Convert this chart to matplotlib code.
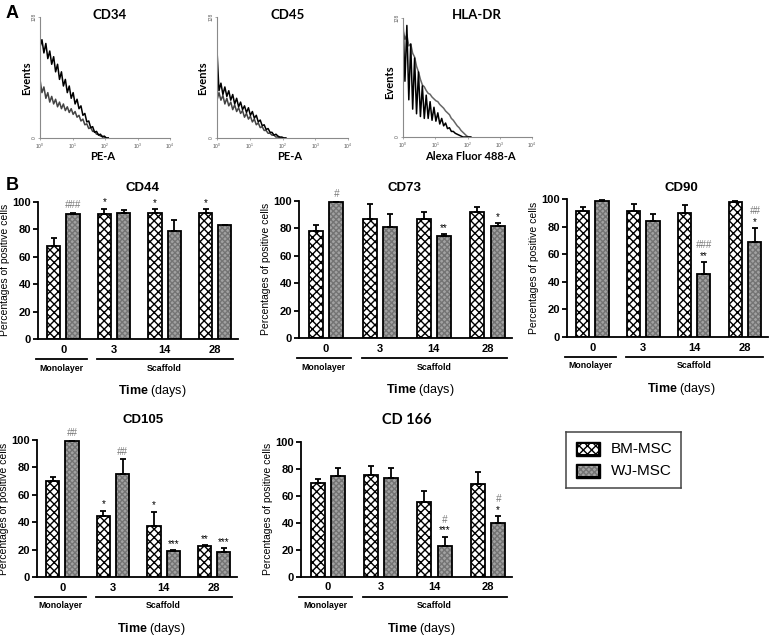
import matplotlib
matplotlib.use('Agg')
import matplotlib.pyplot as plt
import matplotlib.transforms as mtransforms
from matplotlib.patches import Rectangle
from matplotlib.ticker import NullLocator
import numpy as np

plt.rcParams['font.family'] = ['Liberation Sans', 'DejaVu Sans']
plt.rcParams['mathtext.fontset'] = 'custom'
plt.rcParams['mathtext.rm'] = 'Liberation Sans'
plt.rcParams['mathtext.bf'] = 'Liberation Sans:bold'
plt.rcParams['hatch.linewidth'] = 1.0

W, H = 778, 638

# ---- panel A: flow cytometry histograms (events per log bin)
log_bins = np.linspace(0, 2.1, 36)

cd34_a = [96, 104, 90, 100, 84, 92, 78, 86, 70, 78, 62, 70, 55, 62, 48, 55, 42, 48,
          36, 41, 31, 34, 24, 26, 17, 18, 11, 12, 6, 7, 3, 4, 1, 2, 0, 0]
cd34_b = [62, 48, 54, 42, 48, 38, 44, 36, 41, 33, 38, 31, 36, 29, 33, 27, 31, 25,
          28, 22, 24, 18, 20, 14, 15, 10, 11, 7, 7, 4, 4, 2, 2, 1, 0, 0]
cd45_a = [93, 50, 58, 46, 54, 44, 50, 40, 46, 36, 42, 33, 38, 30, 34, 27, 32, 24,
          28, 21, 24, 17, 19, 13, 14, 9, 10, 6, 6, 3, 4, 2, 1, 1, 0, 0]
cd45_b = [40, 48, 40, 45, 36, 42, 34, 38, 30, 35, 28, 32, 26, 29, 22, 26, 20, 23,
          17, 20, 14, 16, 11, 12, 8, 8, 5, 5, 3, 3, 1, 1, 0, 0, 0, 0]
hla_a = [128, 60, 120, 40, 100, 30, 85, 25, 70, 22, 55, 20, 45, 20, 38, 18, 32, 17,
         26, 14, 20, 12, 15, 9, 10, 6, 6, 4, 3, 2, 1, 0, 0, 0, 0, 0]
hla_b = [115, 105, 110, 98, 100, 90, 86, 76, 70, 62, 56, 54, 50, 47, 46, 43, 41, 39,
         38, 35, 33, 31, 28, 26, 24, 20, 18, 15, 12, 10, 7, 5, 3, 1, 0, 0]

# ---- panel B: % positive cells (mean, upper SD), significance marks
groups = ['0', '3', '14', '28']

cd44_bm = [67.5, 91, 92, 92]
cd44_bm_err = [6.3, 4, 2.7, 2.4]
cd44_wj = [91, 92, 79, 83]
cd44_wj_err = [0.6, 2, 7.7, 0.3]
cd44_bm_star = ['', '*', '*', '*']
cd44_wj_star = ['', '', '', '']
cd44_wj_hash = ['###', '', '', '']

cd73_bm = [78, 87, 86.6, 91.5]
cd73_bm_err = [4, 10.5, 5.4, 4]
cd73_wj = [98.7, 81, 74, 81.5]
cd73_wj_err = [0.5, 9, 1.5, 2]
cd73_bm_star = ['', '', '', '']
cd73_wj_star = ['', '', '**', '*']
cd73_wj_hash = ['#', '', '', '']

cd90_bm = [91.5, 91.3, 89.6, 97.8]
cd90_bm_err = [3, 5, 6.4, 0.5]
cd90_wj = [98.5, 83.8, 46, 69]
cd90_wj_err = [0.5, 5, 8.3, 9.7]
cd90_bm_star = ['', '', '', '']
cd90_wj_star = ['', '', '**', '*']
cd90_wj_hash = ['', '', '###', '##']

cd105_bm = [70.4, 44.7, 36.9, 22.8]
cd105_bm_err = [2.4, 3.8, 10.7, 0.5]
cd105_wj = [99.5, 75.2, 19, 18]
cd105_wj_err = [0.3, 10.7, 0.5, 2.9]
cd105_bm_star = ['', '*', '*', '**']
cd105_wj_star = ['', '', '***', '***']
cd105_wj_hash = ['##', '##', '', '']

cd166_bm = [69.6, 75.3, 55.5, 68.6]
cd166_bm_err = [3, 6.7, 8.2, 9.2]
cd166_wj = [74.6, 72.8, 23, 40]
cd166_wj_err = [5.6, 7.4, 6.6, 5]
cd166_bm_star = ['', '', '', '']
cd166_wj_star = ['', '', '***', '*']
cd166_wj_hash = ['', '', '#', '#']


def box(l, t, r, b):
    return [l / W, 1 - b / H, (r - l) / W, (b - t) / H]


def fx(px):
    return px / W


def fy(py):
    return 1 - py / H


fig = plt.figure(figsize=(W / 100, H / 100), dpi=100)

# ---------------- panel A
def hist_panel(rect, curve_a, curve_b, color_a, color_b):
    ax = fig.add_axes(rect)
    x = 10 ** log_bins
    ax.plot(x, curve_b, color=color_b, lw=1.1)
    ax.plot(x, curve_a, color=color_a, lw=1.1)
    ax.set_xscale('log')
    ax.set_xlim(1, 1e4)
    ax.set_ylim(0, 128)
    for s in ['top', 'right']:
        ax.spines[s].set_visible(False)
    for s in ['left', 'bottom']:
        ax.spines[s].set_color('#8a8a8a')
        ax.spines[s].set_linewidth(0.8)
    ax.xaxis.set_minor_locator(NullLocator())
    ax.set_xticks([1, 10, 100, 1000, 10000])
    ax.set_xticklabels(['$10^0$', '$10^1$', '$10^2$', '$10^3$', '$10^4$'])
    ax.set_yticks([0, 128])
    ax.set_yticklabels(['0', '128'], rotation=90, va='center')
    ax.tick_params(labelsize=3.5, labelcolor='#555555', length=1.5, width=0.5,
                   color='#8a8a8a', pad=1)
    return ax


hist_panel(box(40, 17, 170, 138), cd34_a, cd34_b, 'black', '#444444')
hist_panel(box(217, 17, 348, 138), cd45_a, cd45_b, 'black', '#444444')
hist_panel(box(403, 18, 532, 137), hla_a, hla_b, 'black', '#666666')

lato = dict(family=['Lato', 'DejaVu Sans'], fontweight='bold')
fig.text(fx(110), fy(15), 'CD34', ha='center', va='center', fontsize=9.5, **lato)
fig.text(fx(288), fy(15), 'CD45', ha='center', va='center', fontsize=9.5, **lato)
fig.text(fx(477), fy(15), 'HLA-DR', ha='center', va='center', fontsize=9.5, **lato)
for ex, ey in [(27, 78), (203, 78), (390, 82)]:
    fig.text(fx(ex), fy(ey), 'Events', rotation=90, ha='center', va='center', fontsize=8, **lato)
fig.text(fx(103), fy(157), 'PE-A', ha='center', va='center', fontsize=8, **lato)
fig.text(fx(290), fy(157), 'PE-A', ha='center', va='center', fontsize=8, **lato)
fig.text(fx(470), fy(157), 'Alexa Fluor 488-A', ha='center', va='center', fontsize=8, **lato)

fig.text(fx(12), fy(14), 'A', ha='center', va='center', fontsize=13, fontweight='bold')
fig.text(fx(12), fy(185), 'B', ha='center', va='center', fontsize=13, fontweight='bold')

# ---------------- panel B
OFF, BW = 0.19, 0.26
BM_HATCH = 'xxxx'
WJ_HATCH = 'xxxxxx'
WJ_FACE, WJ_LINE = '#a2a2a2', '#747474'


def bar_panel(rect, bm, bm_err, wj, wj_err, bm_star, wj_star, wj_hash):
    ax = fig.add_axes(rect)
    x = np.arange(len(groups))
    ax.bar(x - OFF, bm, BW, color='white', edgecolor='black', hatch=BM_HATCH,
           linewidth=1.3, zorder=2)
    ax.bar(x + OFF, wj, BW, color=WJ_FACE, edgecolor=WJ_LINE, hatch=WJ_HATCH,
           linewidth=0, zorder=2)
    ax.bar(x + OFF, wj, BW, fill=False, edgecolor='black', linewidth=1.3, zorder=3)
    ax.errorbar(x - OFF, bm, yerr=[np.zeros(len(bm)), bm_err], fmt='none', ecolor='black',
                elinewidth=1.3, capsize=2.5, capthick=1.3, zorder=4)
    ax.errorbar(x + OFF, wj, yerr=[np.zeros(len(wj)), wj_err], fmt='none', ecolor='black',
                elinewidth=1.3, capsize=2.5, capthick=1.3, zorder=4)
    for i in range(len(groups)):
        top = bm[i] + bm_err[i]
        if bm_star[i]:
            ax.text(x[i] - OFF, top + 1, bm_star[i], ha='center', va='bottom', fontsize=7)
        top = wj[i] + wj_err[i]
        if wj_star[i]:
            ax.text(x[i] + OFF, top + 1, wj_star[i], ha='center', va='bottom', fontsize=7)
        if wj_hash[i]:
            h = top + (9 if wj_star[i] else 2)
            ax.text(x[i] + OFF, h, wj_hash[i], ha='center', va='bottom', fontsize=7,
                    color='#777777', style='italic')
    ax.set_xlim(-0.5, 3.45)
    ax.set_ylim(0, 100)
    ax.set_yticks([0, 20, 40, 60, 80, 100])
    ax.set_xticks(x)
    ax.set_xticklabels(groups)
    for s in ['top', 'right']:
        ax.spines[s].set_visible(False)
    for s in ['left', 'bottom']:
        ax.spines[s].set_linewidth(1.3)
    ax.tick_params(axis='y', length=3.5, width=1.3, labelsize=8, pad=1.5)
    ax.tick_params(axis='x', length=0, labelsize=8, pad=4)
    for lab in ax.get_xticklabels() + ax.get_yticklabels():
        lab.set_fontweight('bold')
    ax.set_ylabel('Percentages of positive cells', fontsize=7.5, labelpad=2)

    hpx = rect[3] * H
    tr = mtransforms.blended_transform_factory(ax.transData, ax.transAxes)
    yl = -20 / hpx
    ax.plot([-0.54, 0.46], [yl, yl], color='black', lw=1.3, transform=tr, clip_on=False)
    ax.plot([0.66, 3.35], [yl, yl], color='black', lw=1.3, transform=tr, clip_on=False)
    ax.text(-0.04, -29 / hpx, 'Monolayer', transform=tr, ha='center', va='center',
            fontsize=6.3, fontweight='bold')
    ax.text(2.0, -29 / hpx, 'Scaffold', transform=tr, ha='center', va='center',
            fontsize=6.3, fontweight='bold')
    ax.text(1.75, -52 / hpx, r'$\mathbf{Time}$ (days)', transform=tr, ha='center',
            va='center', fontsize=9)
    return ax


bar_panel(box(38, 201.7, 238, 339), cd44_bm, cd44_bm_err, cd44_wj, cd44_wj_err,
          cd44_bm_star, cd44_wj_star, cd44_wj_hash)
bar_panel(box(299, 200.7, 512, 338), cd73_bm, cd73_bm_err, cd73_wj, cd73_wj_err,
          cd73_bm_star, cd73_wj_star, cd73_wj_hash)
bar_panel(box(567, 199, 768, 337), cd90_bm, cd90_bm_err, cd90_wj, cd90_wj_err,
          cd90_bm_star, cd90_wj_star, cd90_wj_hash)
bar_panel(box(37, 440, 237, 577), cd105_bm, cd105_bm_err, cd105_wj, cd105_wj_err,
          cd105_bm_star, cd105_wj_star, cd105_wj_hash)
bar_panel(box(301, 441.7, 512, 576.7), cd166_bm, cd166_bm_err, cd166_wj, cd166_wj_err,
          cd166_bm_star, cd166_wj_star, cd166_wj_hash)

for tx, ty, t in [(143, 188, 'CD44'), (405, 188, 'CD73'), (681, 188, 'CD90'),
                  (143, 420, 'CD105')]:
    fig.text(fx(tx), fy(ty), t, ha='center', va='center', fontsize=9.5, fontweight='bold')
fig.text(fx(407), fy(420), 'CD 166', ha='center', va='center', fontsize=10.5, **lato)

# legend
lax = fig.add_axes(box(566, 432, 681, 488))
lax.set_xlim(0, 115)
lax.set_ylim(56, 0)
lax.set_xticks([])
lax.set_yticks([])
for s in lax.spines.values():
    s.set_linewidth(1.1)
    s.set_color('#444444')
lax.add_patch(Rectangle((10, 10), 24, 14, facecolor='black', edgecolor='black', lw=1))
lax.add_patch(Rectangle((12, 12), 20, 10, facecolor='white', edgecolor='black',
                        hatch=BM_HATCH, lw=0))
lax.add_patch(Rectangle((10, 32), 24, 14, facecolor='black', edgecolor='black', lw=1))
lax.add_patch(Rectangle((12, 34), 20, 10, facecolor=WJ_FACE, edgecolor=WJ_LINE,
                        hatch=WJ_HATCH, lw=0))
lax.text(45, 17, 'BM-MSC', ha='left', va='center', fontsize=11)
lax.text(45, 39, 'WJ-MSC', ha='left', va='center', fontsize=11)

fig.savefig('out.png', dpi=100)
